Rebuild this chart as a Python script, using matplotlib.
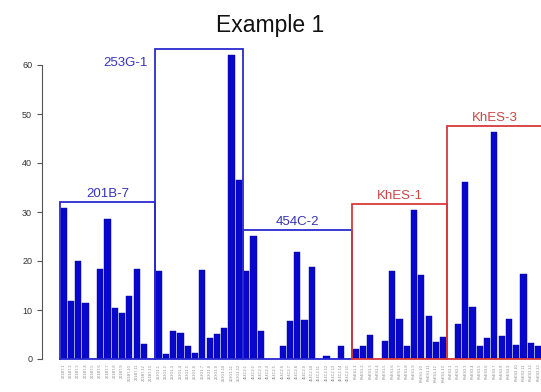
import numpy as np
import matplotlib
matplotlib.use("Agg")
import matplotlib.pyplot as plt

plt.rcParams['font.family'] = ['Liberation Sans', 'DejaVu Sans']

# valores, un arreglo por grupo
grupos = ["201B-7", "253G-1", "454C-2", "KhES-1", "KhES-3"]
v_201B7 = [30.8, 11.8, 20.0, 11.4, 0, 18.4, 28.6, 10.4, 9.3, 12.8, 18.4, 3.1, 0]
v_253G1 = [18.0, 1.0, 5.7, 5.3, 2.6, 1.3, 18.2, 4.2, 5.1, 6.4, 62.1, 36.6]
v_454C2 = [18.0, 25.2, 5.7, 0, 0, 2.7, 7.8, 21.9, 7.9, 18.8, 0, 0.6, 0, 2.7, 0]
v_KhES1 = [2.1, 2.6, 4.9, 0, 3.6, 18.0, 8.2, 2.6, 30.4, 17.2, 8.7, 3.5, 4.5]
v_KhES3 = [0, 7.2, 36.1, 10.6, 2.7, 4.2, 46.4, 4.6, 8.1, 2.8, 17.4, 3.2, 2.6]
valores = [v_201B7, v_253G1, v_454C2, v_KhES1, v_KhES3]
y_ticks = [0, 10, 20, 30, 40, 50, 60]

col_grupo = ['#2a2ad0', '#2a2ad0', '#2a2ad0', '#d63a3a', '#d63a3a']
col_texto = ['#3434b8', '#3434b8', '#3434b8', '#cc4444', '#cc4444']

W, H = 541, 392
fig = plt.figure(figsize=(W / 100, H / 100), dpi=100)

# ejes: x=0 en px 60, 7.3 px por barra, y=0 en px 359, 4.9 px por unidad
paso = 7.3
x_izq = (42 - 60) / paso
x_der = (W - 60) / paso
ax = fig.add_axes([42 / W, 33 / H, (W - 42) / W, 318.5 / H])
ax.set_xlim(x_izq, x_der)
ax.set_ylim(0, 65)

todos = np.concatenate([np.array(v, dtype=float) for v in valores])
nombres = []
for g, v in zip(grupos, valores):
    base = g.replace("-", "")
    nombres += [base + "." + str(k + 1) for k in range(len(v))]
pos = np.arange(len(todos)) + 0.5

ax.bar(pos, todos, width=0.86, color='#0808cc', edgecolor='#0000a0', linewidth=0.3)

# cajas alrededor de cada grupo
ini = 0
for i, (g, v) in enumerate(zip(grupos, valores)):
    fin = ini + len(v)
    tope = max(v) + 1.2
    ax.plot([ini, ini, fin, fin, ini], [0, tope, tope, 0, 0], color=col_grupo[i],
            lw=1.3, clip_on=False, solid_joinstyle='miter')
    if g == "253G-1":
        ax.annotate(g, (ini, tope), xytext=(-5, -12.5), textcoords='offset points',
                    ha='right', va='baseline', fontsize=9.5, color=col_texto[i])
    else:
        ax.annotate(g, (ini + len(v) / 2, tope), xytext=(0, 3.5), textcoords='offset points',
                    ha='center', va='baseline', fontsize=9.5, color=col_texto[i])
    ini = fin

# eje y estilo R
for s in ['top', 'right', 'bottom']:
    ax.spines[s].set_visible(False)
ax.spines['left'].set_bounds(0, 60)
ax.spines['left'].set_color('#555555')
ax.spines['left'].set_linewidth(0.8)
ax.set_yticks(y_ticks)
ax.tick_params(axis='y', length=3.6, width=0.8, color='#555555', pad=3.5,
               labelsize=6.5, labelcolor='#333333')
ax.set_xticks(pos)
ax.set_xticklabels(nombres, rotation=90, fontsize=2.8, color='#888888')
ax.tick_params(axis='x', length=0, pad=3.5)

fig.text(0.5, 1 - 31.7 / H, "Example 1", ha='center', va='baseline', fontsize=16.5, color='#111111')

fig.savefig("out.png", dpi=100)
